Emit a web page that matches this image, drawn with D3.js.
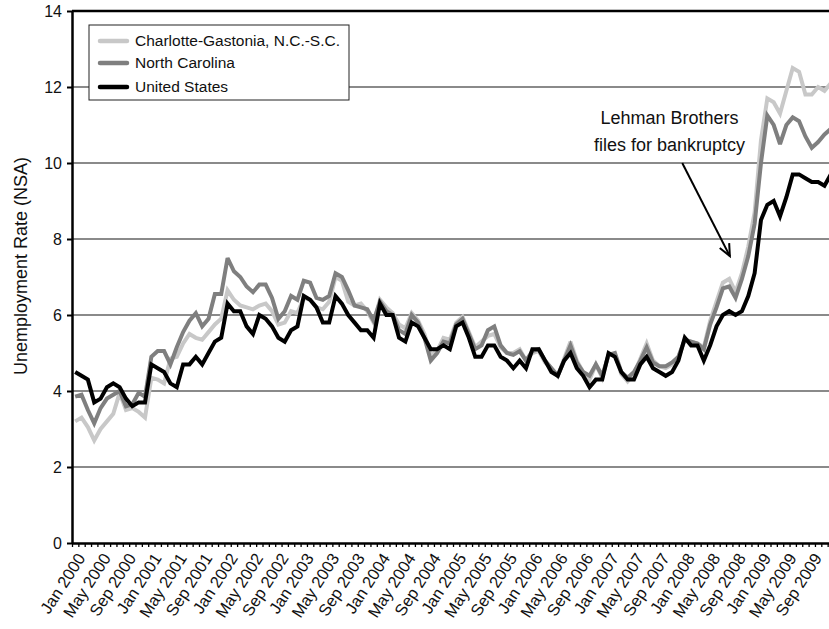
<!DOCTYPE html>
<html>
<head>
<meta charset="utf-8">
<script src="https://cdn.jsdelivr.net/npm/d3@7"></script>
<style>
  html, body { margin: 0; padding: 0; background: #fff; }
  svg { display: block; font-family: "Liberation Sans", Arial, Helvetica, sans-serif; }
</style>
</head>
<body>
<svg id="chart" width="829" height="629"></svg>
<script>
// ---------- DATA ----------
const monthNames = ["Jan","Feb","Mar","Apr","May","Jun","Jul","Aug","Sep","Oct","Nov","Dec"];
const years = [2000,2001,2002,2003,2004,2005,2006,2007,2008,2009];
const categories = years.flatMap(yr => monthNames.map(m => m + " " + yr));

const charlotte = [
  3.2, 3.3, 3.05, 2.7, 3.0, 3.2, 3.4, 3.95, 3.5, 3.55, 3.45, 3.3,
  4.35, 4.3, 4.2, 4.85, 4.9, 5.25, 5.5, 5.4, 5.35, 5.55, 5.75, 5.9,
  6.65, 6.4, 6.25, 6.2, 6.15, 6.25, 6.3, 6.1, 5.75, 5.8, 6.1, 6.05,
  6.45, 6.4, 6.2, 6.15, 6.35, 7.0, 6.9, 6.35, 6.25, 6.3, 6.1, 5.8,
  6.4, 6.2, 6.05, 5.75, 5.65, 6.05, 5.85, 5.5, 4.95, 5.05, 5.4, 5.35,
  5.8, 5.95, 5.55, 5.15, 5.3, 5.45, 5.5, 5.15, 5.0, 5.0, 5.1, 4.8,
  5.0, 5.05, 4.75, 4.6, 4.4, 4.85, 5.3, 4.8, 4.5, 4.3, 4.7, 4.35,
  4.95, 4.95, 4.45, 4.25, 4.45, 4.85, 5.25, 4.8, 4.65, 4.6, 4.7, 4.9,
  5.35, 5.3, 5.25, 5.15, 5.85, 6.35, 6.85, 6.95, 6.6, 7.1, 7.8, 8.7,
  10.6, 11.7, 11.6, 11.3, 11.9, 12.5, 12.4, 11.8, 11.8, 12.0, 11.9, 12.1
];
const northCarolina = [
  3.85, 3.9, 3.5, 3.15, 3.55, 3.8, 3.9, 4.0, 3.6, 3.65, 3.95, 3.85,
  4.9, 5.05, 5.05, 4.7, 5.15, 5.55, 5.85, 6.05, 5.7, 5.9, 6.55, 6.55,
  7.5, 7.15, 7.0, 6.75, 6.6, 6.8, 6.8, 6.45, 5.9, 6.1, 6.5, 6.4,
  6.9, 6.85, 6.45, 6.4, 6.5, 7.1, 7.0, 6.65, 6.25, 6.2, 6.15, 5.85,
  6.35, 6.1, 6.0, 5.6, 5.5, 6.0, 5.8, 5.4, 4.8, 5.0, 5.3, 5.25,
  5.75, 5.9, 5.5, 5.1, 5.2, 5.6, 5.7, 5.2, 5.0, 4.95, 5.05, 4.8,
  5.05, 5.1, 4.8, 4.6, 4.4, 4.8, 5.2, 4.75, 4.5, 4.4, 4.7, 4.4,
  4.95, 5.0, 4.5, 4.35, 4.5, 4.8, 5.15, 4.75, 4.65, 4.65, 4.75, 4.9,
  5.35, 5.3, 5.25, 5.1, 5.75, 6.2, 6.7, 6.75, 6.45, 6.95, 7.55, 8.4,
  10.0, 11.25, 11.0, 10.5, 11.0, 11.2, 11.1, 10.7, 10.4, 10.55, 10.75, 10.9
];
const unitedStates = [
  4.5, 4.4, 4.3, 3.7, 3.8, 4.1, 4.2, 4.1, 3.8, 3.6, 3.7, 3.7,
  4.7, 4.6, 4.5, 4.2, 4.1, 4.7, 4.7, 4.9, 4.7, 5.0, 5.3, 5.4,
  6.3, 6.1, 6.1, 5.7, 5.5, 6.0, 5.9, 5.7, 5.4, 5.3, 5.6, 5.7,
  6.5, 6.4, 6.2, 5.8, 5.8, 6.5, 6.3, 6.0, 5.8, 5.6, 5.6, 5.4,
  6.3, 6.0, 6.0, 5.4, 5.3, 5.8, 5.7, 5.4, 5.1, 5.1, 5.2, 5.1,
  5.7, 5.8, 5.4, 4.9, 4.9, 5.2, 5.2, 4.9, 4.8, 4.6, 4.8, 4.6,
  5.1, 5.1, 4.8, 4.5, 4.4, 4.8, 5.0, 4.6, 4.4, 4.1, 4.3, 4.3,
  5.0, 4.9, 4.5, 4.3, 4.3, 4.7, 4.9, 4.6, 4.5, 4.4, 4.5, 4.8,
  5.4, 5.2, 5.2, 4.8, 5.2, 5.7, 6.0, 6.1, 6.0, 6.1, 6.5, 7.1,
  8.5, 8.9, 9.0, 8.6, 9.1, 9.7, 9.7, 9.6, 9.5, 9.5, 9.4, 9.7
];
const yTicks = [0, 2, 4, 6, 8, 10, 12, 14];
const xLabelStep = 4;
const seriesNames = ["Charlotte-Gastonia, N.C.-S.C.", "North Carolina", "United States"];
const seriesColors = ["#c8c8c8", "#7f7f7f", "#000000"];
const yTitle = "Unemployment Rate (NSA)";
const annotationLines = ["Lehman Brothers", "files for bankruptcy"];
// annotation anchor positions in data units (month index, rate)
const annotationText = { i: 93.6, v: [11.18, 10.47] };
const annotationArrow = { from: { i: 95.6, v: 10.0 }, to: { i: 103.1, v: 7.55 } };

// ---------- LAYOUT ----------
const svg = d3.select("#chart");
const pL = 72, pR = 834, pT = 11, pB = 543;
const x = d3.scaleLinear().domain([0, categories.length]).range([pL, pR]);
const y = d3.scaleLinear().domain([0, 14]).range([pB, pT]);
const cx = i => x(i + 0.5);

// gridlines
svg.append("g").selectAll("line")
  .data(yTicks.filter(t => t > 0 && t < 14))
  .join("line")
  .attr("x1", pL).attr("x2", 829)
  .attr("y1", d => y(d)).attr("y2", d => y(d))
  .attr("stroke", "#8a8a8a").attr("stroke-width", 2);

// top border at 14
svg.append("line")
  .attr("x1", pL).attr("x2", 829)
  .attr("y1", y(14)).attr("y2", y(14))
  .attr("stroke", "#000").attr("stroke-width", 2.5);

// series lines
const series = [charlotte, northCarolina, unitedStates];
const lineGen = d3.line().x((d, i) => cx(i)).y(d => y(d));
svg.append("g").selectAll("path")
  .data(series)
  .join("path")
  .attr("d", d => lineGen(d))
  .attr("fill", "none")
  .attr("stroke", (d, k) => seriesColors[k])
  .attr("stroke-width", 4)
  .attr("stroke-linejoin", "miter")
  .attr("stroke-miterlimit", 3);

// y axis
const yAxis = svg.append("g")
  .attr("transform", `translate(${pL},0)`)
  .call(d3.axisLeft(y).tickValues(yTicks).tickSize(5).tickSizeOuter(0).tickPadding(5).tickFormat(d3.format("d")));
yAxis.select(".domain").attr("stroke", "#000").attr("stroke-width", 2.5);
yAxis.selectAll(".tick line").attr("stroke", "#000").attr("stroke-width", 2);
yAxis.selectAll(".tick text").attr("font-size", 16).attr("fill", "#111")
  .attr("font-family", "'Liberation Sans', Arial, sans-serif");

// x axis with monthly ticks
const xAxis = svg.append("g")
  .attr("transform", `translate(0,${pB})`)
  .call(d3.axisBottom(x).tickValues(d3.range(categories.length + 1)).tickSize(4).tickSizeOuter(0).tickFormat(""));
xAxis.select(".domain").attr("stroke", "#000").attr("stroke-width", 2.5);
xAxis.selectAll(".tick line").attr("stroke", "#000").attr("stroke-width", 1.3);

// x labels
svg.append("g").selectAll("text")
  .data(categories.map((c, i) => ({ c, i })).filter(d => d.i % xLabelStep === 0))
  .join("text")
  .attr("transform", d => `translate(${cx(d.i) + 6},${pB + 12}) rotate(-57)`)
  .attr("text-anchor", "end")
  .attr("dy", "0.35em")
  .attr("font-size", 16.5)
  .attr("fill", "#111")
  .text(d => d.c);

// y title
svg.append("text")
  .attr("transform", `translate(21,${(pT + pB) / 2 - 11}) rotate(-90)`)
  .attr("text-anchor", "middle")
  .attr("dy", "0.35em")
  .attr("font-size", 18)
  .attr("fill", "#111")
  .text(yTitle);

// legend
const lg = svg.append("g").attr("transform", "translate(89,25)");
lg.append("rect").attr("width", 260).attr("height", 75)
  .attr("fill", "#fff").attr("stroke", "#222").attr("stroke-width", 1);
const rowY = [16, 38, 62];
seriesNames.forEach((name, k) => {
  lg.append("line").attr("x1", 11).attr("x2", 38).attr("y1", rowY[k]).attr("y2", rowY[k])
    .attr("stroke", seriesColors[k]).attr("stroke-width", 4.5).attr("stroke-linecap", "round");
  lg.append("text").attr("x", 46).attr("y", rowY[k]).attr("dy", "0.35em")
    .attr("font-size", 15.5).attr("fill", "#111").text(name);
});

// annotation
svg.append("g").selectAll("text")
  .data(annotationLines)
  .join("text")
  .attr("x", cx(annotationText.i))
  .attr("y", (d, k) => y(annotationText.v[k]))
  .attr("dy", "0.35em")
  .attr("text-anchor", "middle")
  .attr("font-size", 18)
  .attr("fill", "#111")
  .text(d => d);

const ax1 = cx(annotationArrow.from.i), ay1 = y(annotationArrow.from.v);
const ax2 = cx(annotationArrow.to.i), ay2 = y(annotationArrow.to.v);
svg.append("line").attr("x1", ax1).attr("y1", ay1).attr("x2", ax2).attr("y2", ay2)
  .attr("stroke", "#000").attr("stroke-width", 2);
const ang = Math.atan2(ay2 - ay1, ax2 - ax1);
const hl = 13, hw = 0.42;
svg.append("path")
  .attr("d", `M${ax2 - hl * Math.cos(ang - hw)},${ay2 - hl * Math.sin(ang - hw)} L${ax2},${ay2} L${ax2 - hl * Math.cos(ang + hw)},${ay2 - hl * Math.sin(ang + hw)}`)
  .attr("fill", "none").attr("stroke", "#000").attr("stroke-width", 2);
</script>
</body>
</html>
